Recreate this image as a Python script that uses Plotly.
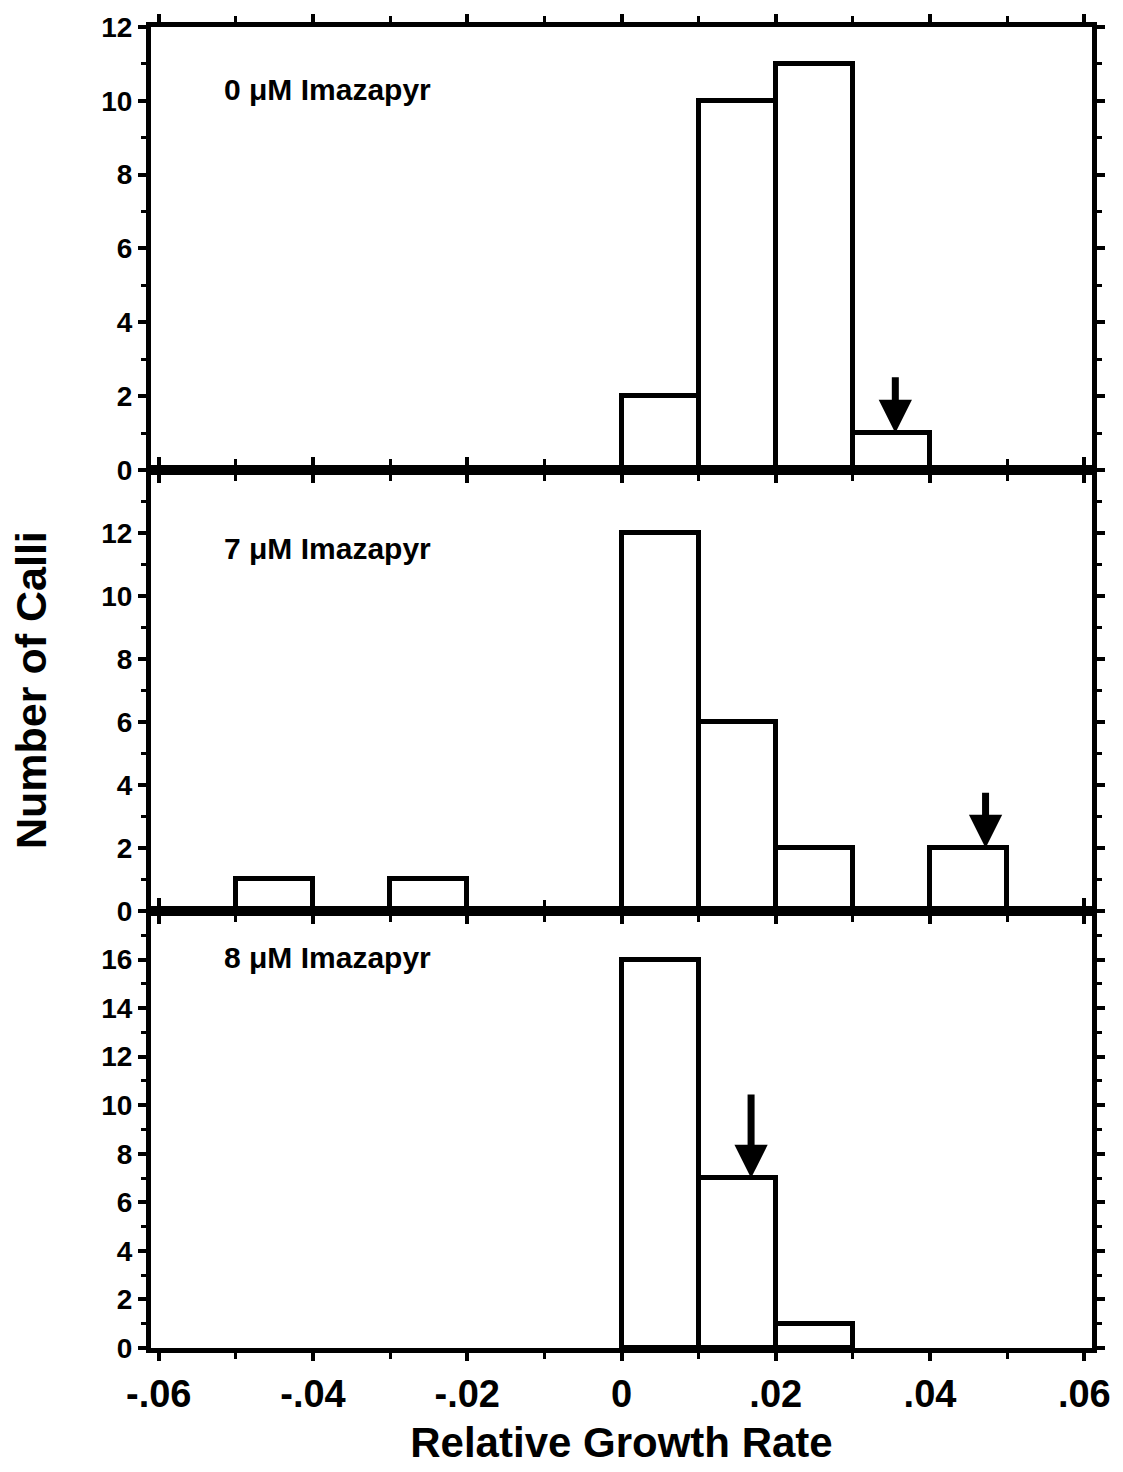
import plotly.graph_objects as go
from plotly.subplots import make_subplots

# ---- data ----
bin_width = 0.01
panel_labels = ["0 \u03bcM Imazapyr", "7 \u03bcM Imazapyr", "8 \u03bcM Imazapyr"]

bins_0uM = [0.00, 0.01, 0.02, 0.03]
counts_0uM = [2, 10, 11, 1]

bins_7uM = [-0.05, -0.03, 0.00, 0.01, 0.02, 0.04]
counts_7uM = [1, 1, 12, 6, 2, 2]

bins_8uM = [0.00, 0.01, 0.02]
counts_8uM = [16, 7, 1]

# arrows: x position, tip (bar top), tail value
arrow_x = [0.0355, 0.0472, 0.0168]
arrow_tip = [1, 2, 7]
arrow_tail = [2.55, 3.8, 10.5]

x_tickvals = [-0.06, -0.04, -0.02, 0, 0.02, 0.04, 0.06]
x_ticktext = ["-.06", "-.04", "-.02", "0", ".02", ".04", ".06"]

y_ranges = [[0, 12], [0, 14], [0, 18]]
y_tickvals = [list(range(0, 13, 2)), list(range(0, 13, 2)), list(range(0, 17, 2))]
label_y = [10.3, 11.5, 16.1]

FONT = "Liberation Sans"

fig = make_subplots(rows=3, cols=1, shared_xaxes=True, vertical_spacing=0,
                    row_heights=[447, 445, 441])

panels = [(bins_0uM, counts_0uM), (bins_7uM, counts_7uM), (bins_8uM, counts_8uM)]
for i, (bins, counts) in enumerate(panels):
    row = i + 1
    centers = [b + bin_width / 2 for b in bins]
    fig.add_trace(go.Bar(x=centers, y=counts, width=bin_width,
                         marker=dict(color="white", line=dict(color="black", width=5)),
                         showlegend=False), row=row, col=1)
    xref = "x" if row == 1 else f"x{row}"
    yref = "y" if row == 1 else f"y{row}"
    fig.add_annotation(x=arrow_x[i], y=arrow_tip[i], ax=arrow_x[i], ay=arrow_tail[i],
                       xref=xref, yref=yref, axref=xref, ayref=yref,
                       showarrow=True, arrowhead=2, arrowsize=0.95, arrowwidth=7,
                       arrowcolor="black", text="", standoff=0)
    fig.add_annotation(x=-0.0518, y=label_y[i], xref=xref, yref=yref,
                       text=panel_labels[i], showarrow=False, xanchor="left", yanchor="middle",
                       font=dict(family=FONT, size=30, color="black", weight="bold"))
    fig.update_yaxes(row=row, col=1, range=y_ranges[i], tickvals=y_tickvals[i],
                     ticks="outside", ticklen=8, tickwidth=4, tickcolor="black",
                     minor=dict(dtick=1, ticklen=5, tickwidth=3, tickcolor="black", ticks="outside"),
                     showline=True, linewidth=5, linecolor="black", mirror="ticks",
                     showgrid=False, zeroline=False,
                     tickfont=dict(family=FONT, size=28, color="black", weight="bold"))
    fig.update_xaxes(row=row, col=1, range=[-0.061, 0.061], tickvals=x_tickvals,
                     ticktext=x_ticktext, showticklabels=(row == 3),
                     ticks="outside", ticklen=8, tickwidth=4, tickcolor="black",
                     minor=dict(dtick=0.01, tick0=0, ticklen=6, tickwidth=3, tickcolor="black", ticks="outside"),
                     showline=True, linewidth=5, linecolor="black", mirror="ticks",
                     showgrid=False, zeroline=False,
                     tickfont=dict(family=FONT, size=38, color="black", weight="bold"))

fig.update_xaxes(row=3, col=1, title=dict(text="Relative Growth Rate", standoff=16,
                 font=dict(family=FONT, size=42, color="black", weight="bold")))

plot_w = 1123 - 151 - 31
plot_h = 1472 - 21 - 118
fig.add_annotation(xref="paper", yref="paper",
                   x=(31 - 151) / plot_w, y=(1472 - 118 - 690) / plot_h,
                   xanchor="center", yanchor="middle",
                   text="Number of Calli", showarrow=False, textangle=-90,
                   font=dict(family=FONT, size=43, color="black", weight="bold"))

fig.update_layout(width=1123, height=1472, plot_bgcolor="white", paper_bgcolor="white",
                  margin=dict(l=151, r=31, t=21, b=118), bargap=0, showlegend=False)

fig.write_html("out.html")
